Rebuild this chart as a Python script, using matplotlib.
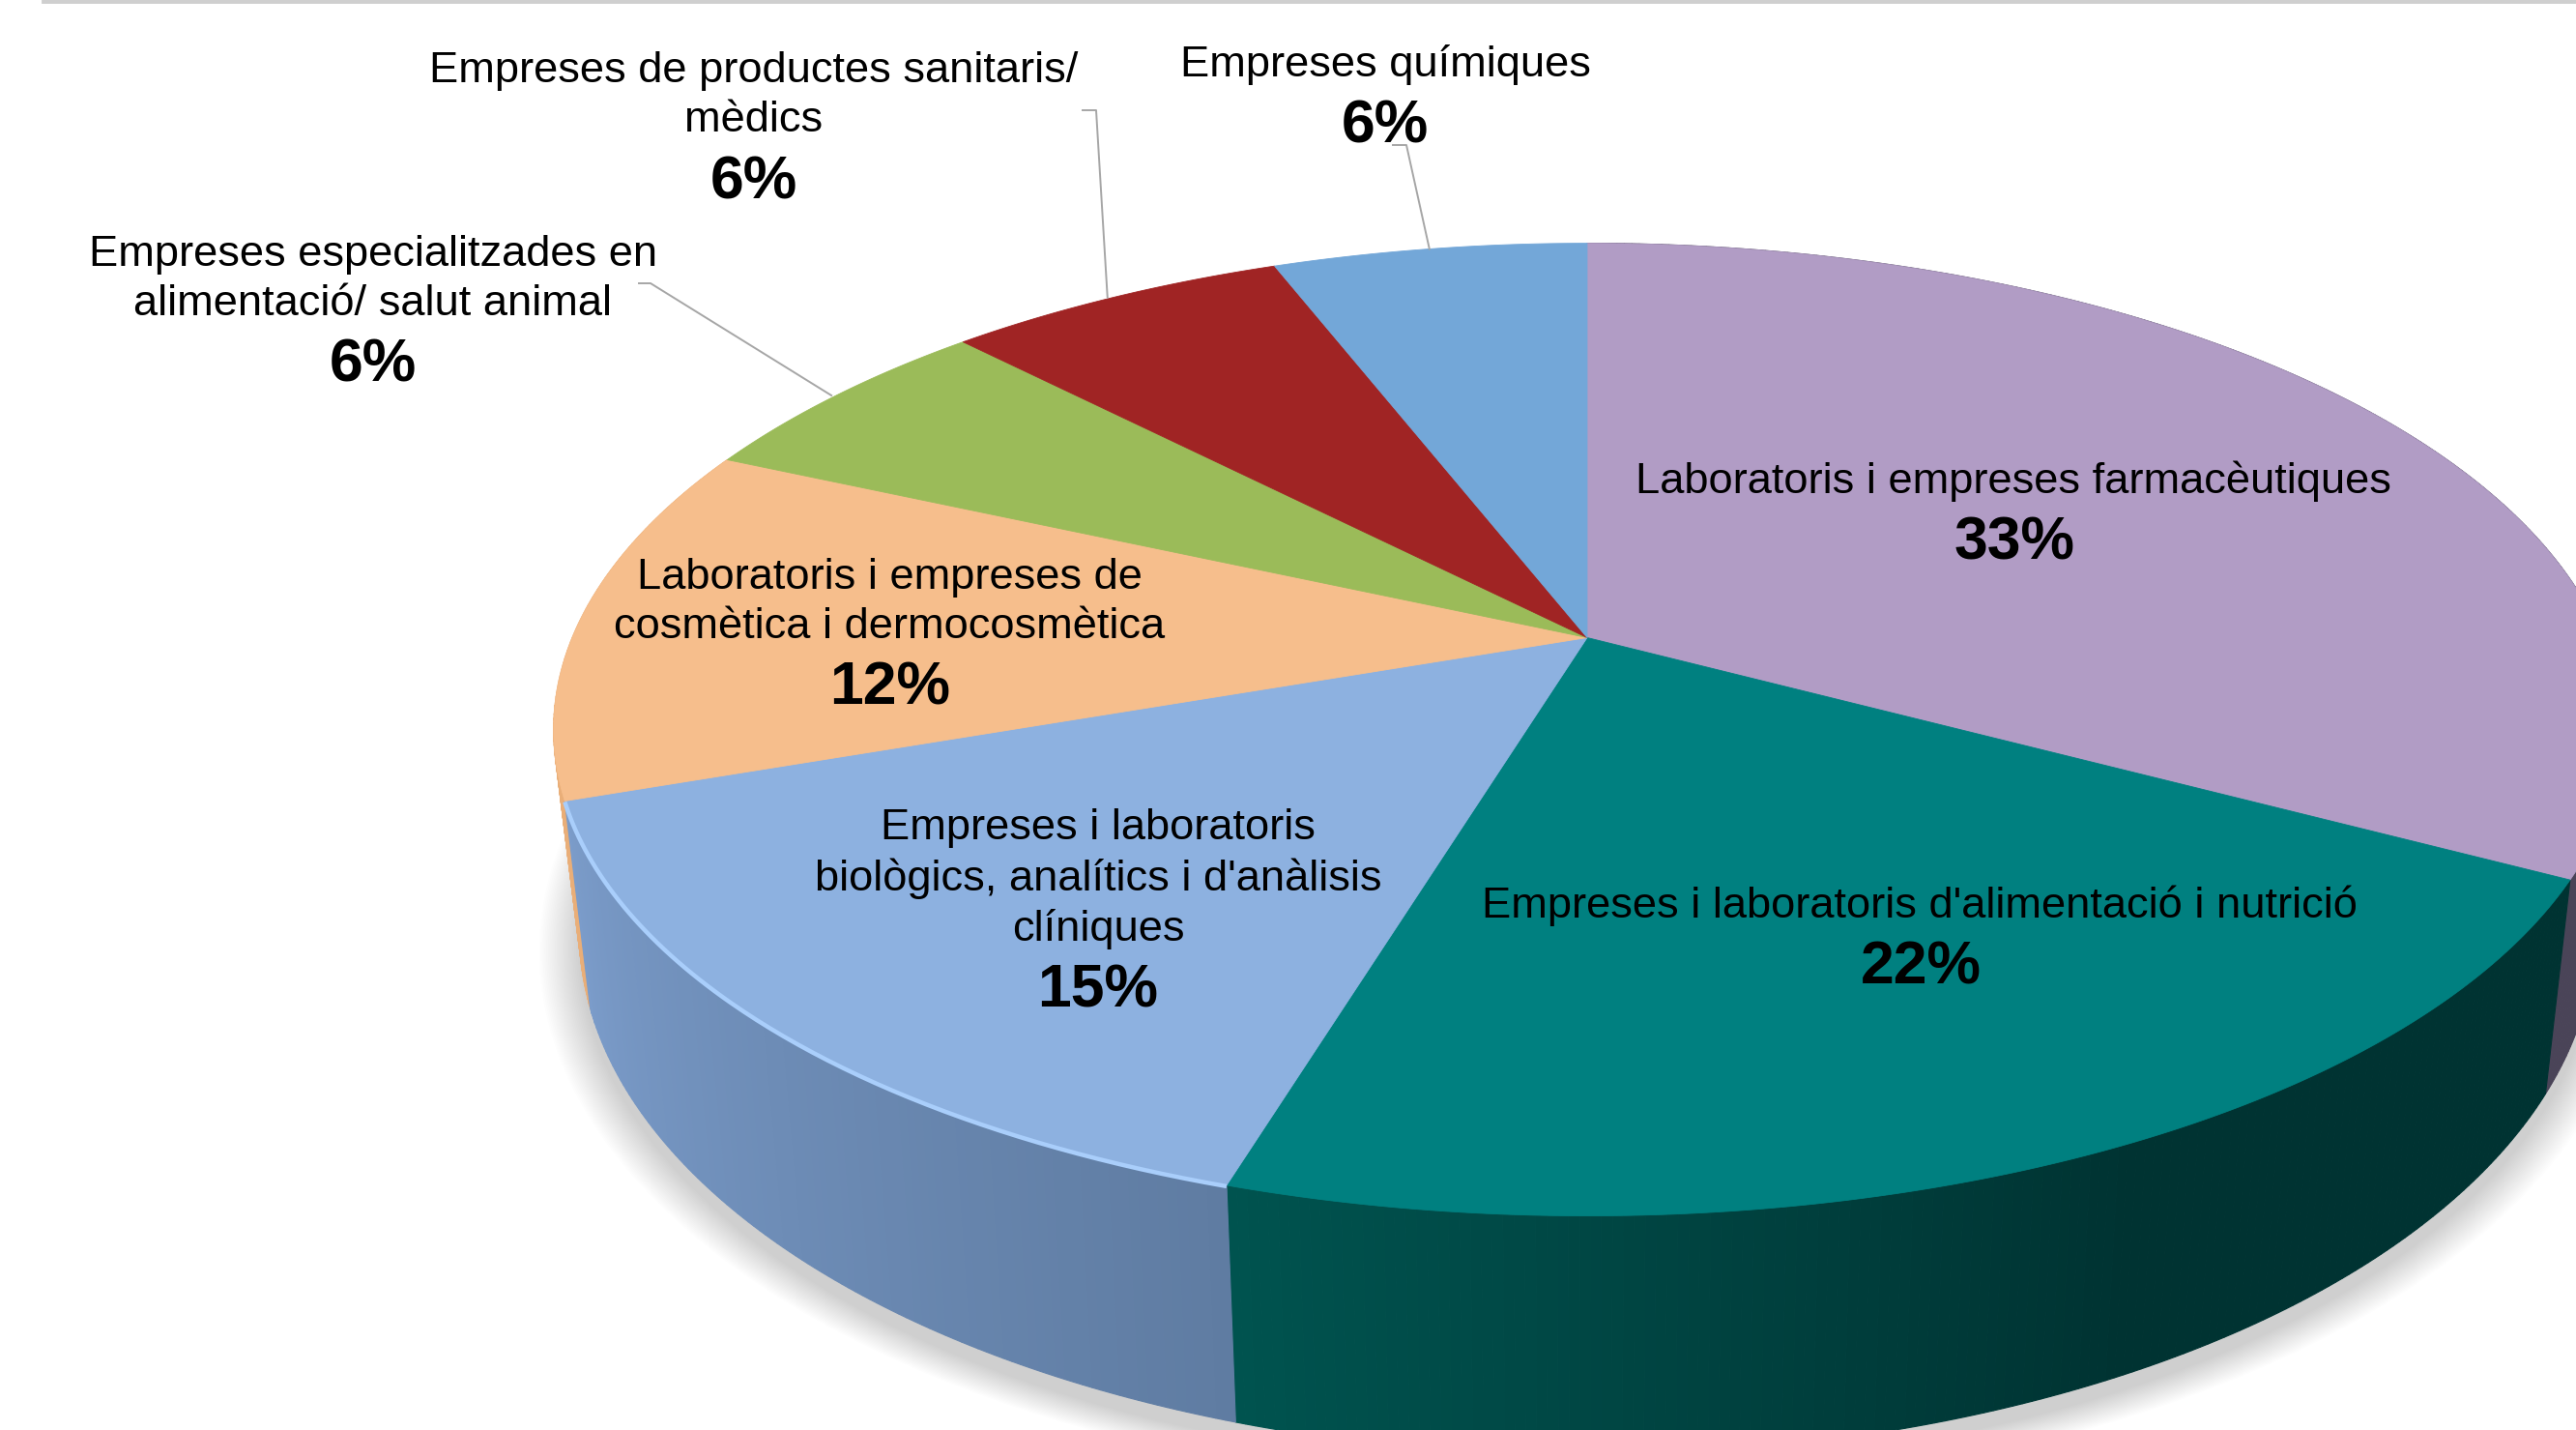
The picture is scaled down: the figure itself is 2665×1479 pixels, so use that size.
import numpy as np
import matplotlib
matplotlib.use("Agg")
import matplotlib.pyplot as plt
from matplotlib.patches import Polygon
from matplotlib.colors import to_rgb

categories = ["Laboratoris i empreses farmacèutiques",
              "Empreses i laboratoris d'alimentació i nutrició",
              "Empreses i laboratoris\nbiològics, analítics i d'anàlisis\nclíniques",
              "Laboratoris i empreses de\ncosmètica i dermocosmètica",
              "Empreses especialitzades en\nalimentació/ salut animal",
              "Empreses de productes sanitaris/\nmèdics",
              "Empreses químiques"]
values = [32.8, 21.9, 15.0, 12.0, 6.0, 6.4, 5.9]
top_colors = ["#B19CC5", "#008080", "#8DB1E0", "#F6BE8C", "#9BBB59", "#A02424", "#73A7D8"]
side_from = ["#4A4458", "#00534F", "#5F7CA2", "#E9AE78", "#7D9A45", "#7D1C1C", "#5C86AE"]
side_to = ["#4A4458", "#003332", "#7B9CCA", "#E9AE78", "#7D9A45", "#7D1C1C", "#5C86AE"]

plt.rcParams["font.family"] = ["Liberation Sans", "DejaVu Sans"]
W, H = 2665, 1479
fig = plt.figure(figsize=(W / 100, H / 100), dpi=100)
ax = fig.add_axes([0, 0, 1, 1])
ax.set_xlim(0, W)
ax.set_ylim(H, 0)
ax.axis("off")

cx, cy, a, b, k = 1642, 659.5, 1050, 485, 0.189
sx_low, sy_low, cy_low = 0.975, 1.075, 862


def rim(theta_deg, low=False, grow=1.0):
    t = np.radians(theta_deg)
    X, Y = np.sin(t), np.cos(t)
    w = 1 + k * Y
    dx, dy = a * X / w, -b * Y / w
    if low:
        return cx + sx_low * grow * dx, cy_low + sy_low * grow * dy
    return cx + dx, cy + dy


edges = np.concatenate([[0], np.cumsum(values)]) / sum(values) * 360

# soft shadow under the pie
full = np.linspace(0, 360, 361)
layers = 24
for i in range(layers):
    g = 1.04 - 0.04 * i / (layers - 1)
    xs, ys = rim(full, True, g)
    ax.add_patch(Polygon(np.c_[xs, ys + 16], closed=True, fc="black", ec="none",
                         alpha=0.0065, zorder=1))

# side wall, back to front, shaded strip by strip
for idx in [3, 2, 0, 1]:
    t0, t1 = edges[idx], edges[idx + 1]
    n = max(int((t1 - t0) * 2), 2)
    ts = np.linspace(t0, t1, n + 1)
    c0, c1 = np.array(to_rgb(side_from[idx])), np.array(to_rgb(side_to[idx]))
    for j in range(n):
        f = j / (n - 1)
        if idx == 1:
            col = c1 + (c0 - c1) * max(0.0, (f - 0.45) / 0.55)
        else:
            col = c0 + (c1 - c0) * f
        x0, y0 = rim(ts[j])
        x1, y1 = rim(ts[j + 1])
        x2, y2 = rim(ts[j + 1], True)
        x3, y3 = rim(ts[j], True)
        ax.add_patch(Polygon([[x0, y0], [x1, y1], [x2, y2], [x3, y3]], closed=True,
                             fc=col, ec=col, lw=0.8, zorder=2 + idx * 0.01 if idx != 3 else 1.9))

# top face
for idx, col in enumerate(top_colors):
    ts = np.linspace(edges[idx], edges[idx + 1], 200)
    xs, ys = rim(ts)
    ax.add_patch(Polygon(np.r_[[[cx, cy]], np.c_[xs, ys]], closed=True,
                         fc=col, ec=col, lw=0.6, zorder=3))

# light bevel on the front of the blue slice
ts = np.linspace(edges[2], edges[3], 150)
xs, ys = rim(ts)
ax.plot(xs, ys + 1, color="#A9CEFB", lw=3.2, solid_capstyle="butt", zorder=4)

# rule along the top edge
ax.plot([45, W], [1, 1], color="#CFCFCF", lw=3.5, zorder=1)

# leader lines
leader_bends = {4: [(661, 293), (673, 293)], 5: [(1120, 114), (1134, 114)], 6: [(1441, 150), (1455, 150)]}
for idx, pts in leader_bends.items():
    ex, ey = rim((edges[idx] + edges[idx + 1]) / 2)
    ex += {4: -5, 5: -6, 6: 0}[idx]
    xs = [p[0] for p in pts] + [ex]
    ys = [p[1] for p in pts] + [ey]
    ax.plot(xs, ys, color="#A6A6A6", lw=1.4, zorder=5)

# labels
name_pos = [(2083, 498), (1986, 937), (1136, 909), (920, 623), (386, 289), (780, 99), (1433, 67)]
pct_pos = [(2084, 562), (1987, 1001), (1136, 1025), (921, 712), (386, 378), (780, 189), (1433, 131)]
for idx, val in enumerate(values):
    ax.text(*name_pos[idx], categories[idx], ha="center", va="center", fontsize=32.6,
            linespacing=1.31, color="black", zorder=6)
    ax.text(*pct_pos[idx], f"{round(val / sum(values) * 100)}%", ha="center", va="center", fontsize=45,
            fontweight="bold", color="black", zorder=6)

fig.savefig("out.png", dpi=100)
